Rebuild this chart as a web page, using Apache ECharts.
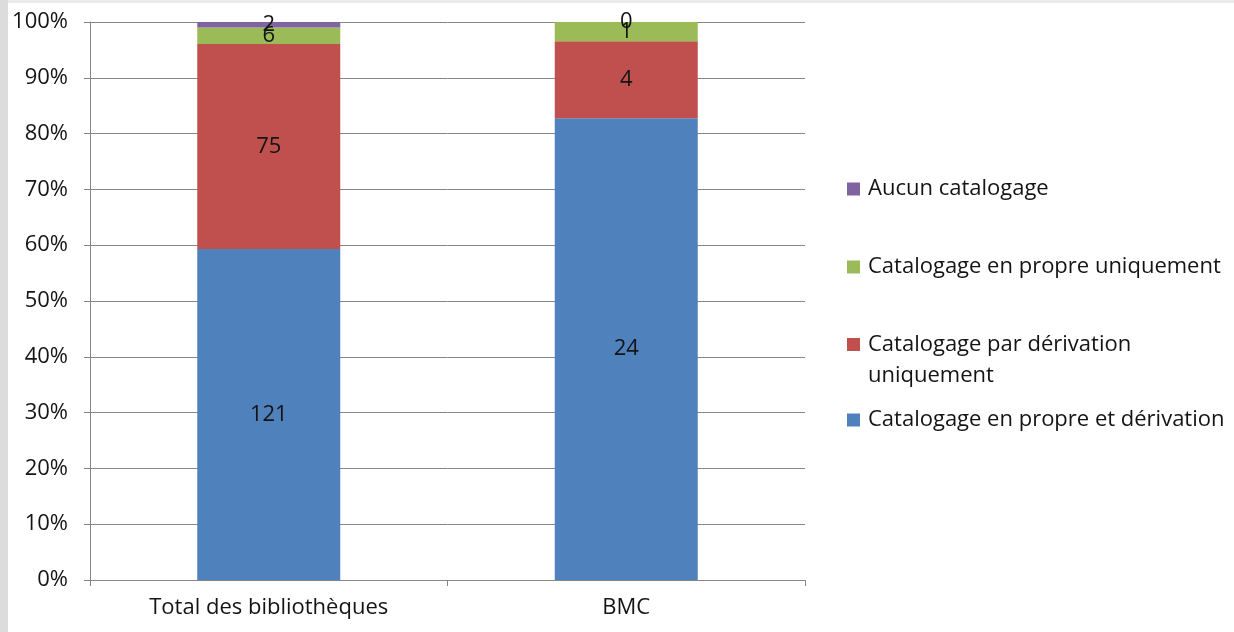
<!DOCTYPE html>
<html>
<head>
<meta charset="utf-8">
<script src="https://cdn.jsdelivr.net/npm/echarts@6/dist/echarts.min.js"></script>
<style>
  html, body { margin: 0; padding: 0; background: #ffffff; }
  #frameTop { position: absolute; left: 0; top: 0; width: 1234px; height: 3px; background: #ececec; }
  #frameLeft { position: absolute; left: 0; top: 0; width: 8px; height: 632px; background: #dcdcdc; }
  #chart { position: absolute; left: 8px; top: 3px; width: 1226px; height: 629px; background: #ffffff; }
</style>
</head>
<body>
<div id="frameTop"></div>
<div id="frameLeft"></div>
<div id="chart"></div>
<script>
  // données (effectifs bruts)
  const categories = ["Total des bibliothèques", "BMC"];
  const seriesNames = [
    "Catalogage en propre et dérivation",
    "Catalogage par dérivation uniquement",
    "Catalogage en propre uniquement",
    "Aucun catalogage"
  ];
  const propreEtDerivation = [121, 24];
  const derivationSeule = [75, 4];
  const propreSeule = [6, 1];
  const aucun = [2, 0];
  const yTicks = [0, 10, 20, 30, 40, 50, 60, 70, 80, 90, 100];

  const colors = ["#4f81bd", "#c0504d", "#9bbb59", "#8064a2"];
  const rawSeries = [propreEtDerivation, derivationSeule, propreSeule, aucun];

  // totaux par catégorie pour passer en 100 %
  const totals = categories.map((c, i) =>
    rawSeries.reduce((s, arr) => s + arr[i], 0)
  );

  const font = "'Open Sans', sans-serif";
  const fs = 22;
  const txt = "#141414";

  let chart = echarts.init(document.getElementById("chart"));

  let series = rawSeries.map((arr, k) => ({
    name: seriesNames[k],
    type: "bar",
    stack: "total",
    barWidth: "40%",
    data: arr.map((v, i) => ({ value: (v / totals[i]) * 100, raw: v })),
    itemStyle: { color: colors[k] },
    label: {
      show: true,
      position: "inside",
      color: txt,
      fontFamily: font,
      fontSize: fs,
      formatter: function (p) {
        return p.data.raw;
      }
    }
  }));

  // une légende par entrée pour reproduire l'espacement d'Excel
  const legendTops = [168, 246, 290, 399];
  const legendOrder = [3, 2, 1, 0];
  let legends = legendOrder.map((k, j) => ({
    data: [seriesNames[k]],
    left: 834,
    top: legendTops[j],
    icon: "rect",
    itemWidth: 13,
    itemHeight: 13,
    selectedMode: false,
    textStyle: {
      fontFamily: font,
      fontSize: fs,
      color: txt,
      lineHeight: k === 1 ? 31 : 26,
      padding: [0, 0, 0, 3]
    },
    formatter: function (name) {
      // ligne vide en tête : l'icône reste alignée sur la 1re ligne
      return name === "Catalogage par dérivation uniquement"
        ? " \nCatalogage par dérivation\nuniquement"
        : name;
    }
  }));

  let option = {
    animation: false,
    legend: legends,
    grid: {
      left: 82,
      right: 429,
      top: 19,
      bottom: 52
    },
    xAxis: {
      type: "category",
      data: categories,
      axisLine: { lineStyle: { color: "#868686", width: 1 } },
      axisTick: { show: true, length: 6, lineStyle: { color: "#868686" } },
      axisLabel: {
        color: txt,
        fontFamily: font,
        fontSize: fs,
        margin: 17
      }
    },
    yAxis: {
      type: "value",
      min: 0,
      max: 100,
      interval: 10,
      axisLine: { show: true, lineStyle: { color: "#868686", width: 1 } },
      axisTick: { show: true, length: 6, lineStyle: { color: "#868686" } },
      splitLine: { lineStyle: { color: "#868686", width: 1 } },
      axisLabel: {
        color: txt,
        fontFamily: font,
        fontSize: fs,
        margin: 22,
        formatter: function (v) {
          return yTicks.indexOf(v) >= 0 ? v + "%" : "";
        }
      }
    },
    series: series
  };

  chart.setOption(option);
  window.addEventListener("resize", () => {
    chart.resize();
  });
</script>
</body>
</html>
